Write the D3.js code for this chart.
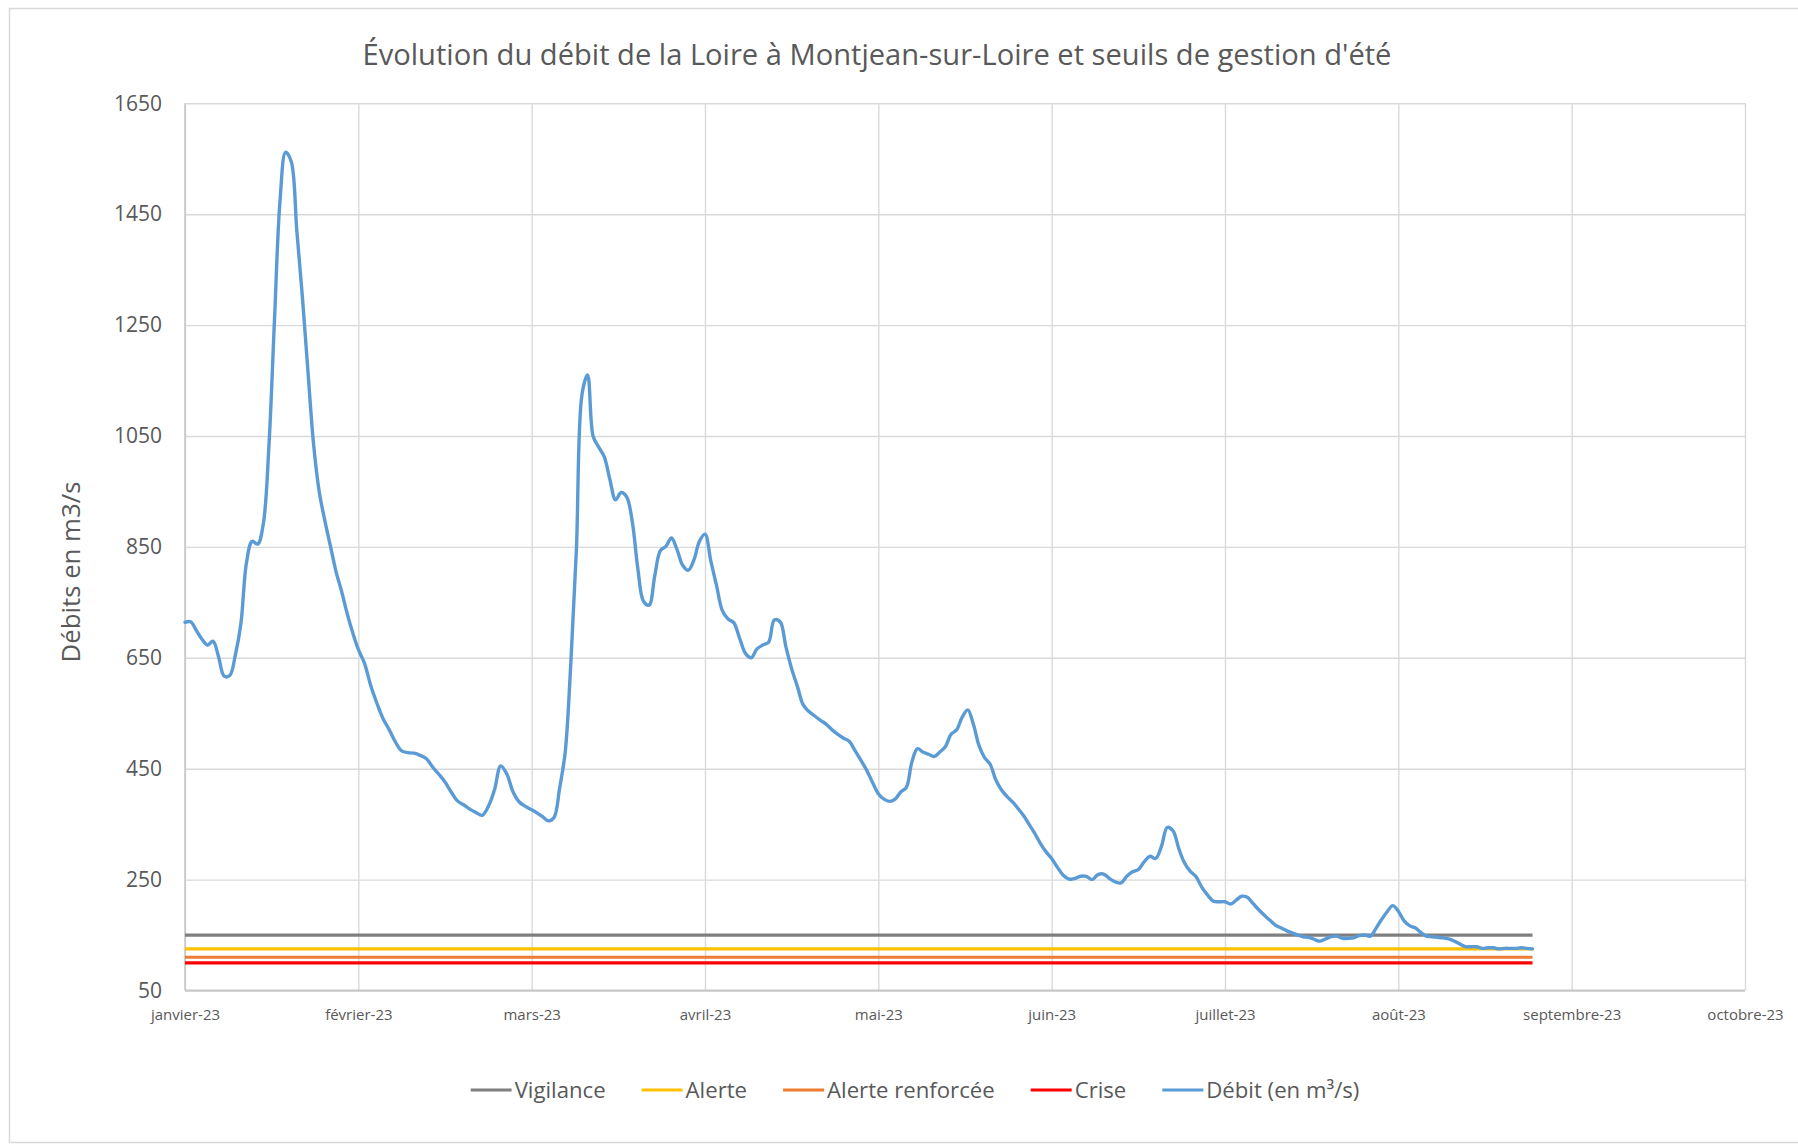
<!DOCTYPE html>
<html>
<head>
<meta charset="utf-8">
<script src="https://cdn.jsdelivr.net/npm/d3@7"></script>
<style>
  body { margin: 0; background: #ffffff; }
  svg { display: block; }
  text { font-family: "Open Sans", "Noto Sans", sans-serif; fill: #595959; }
</style>
</head>
<body>
<svg id="chart" width="1798" height="1145"></svg>
<script>
// ---- Données ----
const titre = "Évolution du débit de la Loire à Montjean-sur-Loire et seuils de gestion d'été";
const titreAxeY = "Débits en m3/s";

const moisDates = ["2023-01-01", "2023-02-01", "2023-03-01", "2023-04-01", "2023-05-01",
                   "2023-06-01", "2023-07-01", "2023-08-01", "2023-09-01", "2023-10-01"];
const moisLabels = ["janvier-23", "février-23", "mars-23", "avril-23", "mai-23",
                    "juin-23", "juillet-23", "août-23", "septembre-23", "octobre-23"];
const yTicks = [50, 250, 450, 650, 850, 1050, 1250, 1450, 1650];

// Seuils de gestion d'été (m3/s)
const seuilNoms = ["Vigilance", "Alerte", "Alerte renforcée", "Crise"];
const seuilValeurs = [150, 125, 110, 100];
const seuilCouleurs = ["#7f7f7f", "#ffc000", "#ed7d31", "#ff0000"];

// Débit journalier (m3/s), du 1er janvier au 25 août 2023
const debitDebut = "2023-01-01";
const debitFin = "2023-08-25";
const debitNom = "Débit (en m³/s)";
const debitCouleur = "#5b9bd5";
const debit = [
  714, 715, 700, 684, 673, 680, 652, 617, 618, 655,
  712, 822, 860, 855, 891, 1030, 1258, 1475, 1562, 1545,
  1420, 1300, 1165, 1035, 950, 898, 852, 806, 770, 730,
  695, 665, 640, 600, 568, 540, 520, 498, 482, 479,
  478, 474, 468, 453, 440, 426, 408, 392, 385, 377,
  371, 366, 382, 412, 455, 440, 408, 390, 382, 376,
  370, 363, 356, 362, 415, 480, 640, 845, 1125, 1160,
  1049, 1030, 1012, 971, 935, 948, 940, 895, 810, 752,
  745, 797, 843, 851, 866, 845, 817, 808, 826, 860,
  873, 825, 780, 735, 720, 713, 685, 658, 650, 666,
  673, 678, 718, 715, 670, 630, 598, 565, 553, 545,
  537, 530, 520, 512, 505, 499, 482, 465, 447, 425,
  405, 395, 391, 395, 408, 416, 462, 486, 480, 476,
  472, 480, 490, 512, 520, 543, 556, 530, 492, 470,
  458, 430, 412, 400, 390, 378, 365, 349, 333, 315,
  300, 288, 272, 258, 251, 252, 256, 256, 250, 259,
  260, 252, 246, 244, 256, 264, 268, 282, 292, 288,
  310, 344, 338, 306, 280, 265, 255, 236, 222, 211,
  210, 210, 206, 213, 220, 218, 207, 196, 186, 177,
  168, 163, 158, 154, 150, 147, 146, 142, 139, 143,
  147, 148, 144, 144, 145, 149, 150, 148, 162, 178,
  192, 203, 193, 176, 167, 163, 155, 148, 147, 146,
  145, 143, 139, 134, 129, 129, 129, 126, 127, 127,
  125, 126, 126, 126, 127, 126, 125
];

// ---- Mise en page ----
const svg = d3.select("#chart");
const plot = { left: 185, right: 1745, top: 103.3, bottom: 990.5 };

const parse = d3.timeParse("%Y-%m-%d");
const moisDatesP = moisDates.map(parse);

// Axe des dates : chaque mois occupe la même largeur
const x = d3.scaleTime()
  .domain(moisDatesP)
  .range(moisDatesP.map((d, i) => plot.left + i * (plot.right - plot.left) / (moisDatesP.length - 1)));

const y = d3.scaleLinear()
  .domain([yTicks[0], yTicks[yTicks.length - 1]])
  .range([plot.bottom, plot.top]);

// Cadre de la zone de graphique
svg.append("rect")
  .attr("x", 9.5).attr("y", 8.5)
  .attr("width", 1800).attr("height", 1134)
  .attr("fill", "#ffffff")
  .attr("stroke", "#d9d9d9").attr("stroke-width", 1.5);

// Ajuste la taille de police d'un texte à une largeur donnée
function fitWidth(sel, target) {
  const w = sel.node().getComputedTextLength();
  const fs = parseFloat(sel.attr("font-size"));
  sel.attr("font-size", fs * target / w);
}

// Titre
const t = svg.append("text")
  .attr("x", 877).attr("y", 55)
  .attr("dy", "0.35em")
  .attr("text-anchor", "middle")
  .attr("font-size", 30)
  .text(titre);
fitWidth(t, 1029);

// Quadrillage horizontal + étiquettes de l'axe Y
const gy = svg.append("g")
  .attr("transform", `translate(${plot.left},0)`)
  .call(d3.axisLeft(y).tickValues(yTicks).tickFormat(d3.format("d"))
    .tickSize(-(plot.right - plot.left)).tickPadding(23));
gy.select(".domain").remove();
gy.selectAll(".tick line").attr("stroke", "#d9d9d9").attr("stroke-width", 1.4);
gy.selectAll(".tick text")
  .attr("font-size", 21)
  .attr("font-family", "\"Open Sans\", sans-serif")
  .attr("fill", "#595959");

// Quadrillage vertical + étiquettes des mois
const gx = svg.append("g")
  .attr("transform", `translate(0,${plot.bottom})`)
  .call(d3.axisBottom(x).tickValues(moisDatesP)
    .tickFormat((d, i) => moisLabels[i])
    .tickSize(-(plot.bottom - plot.top)).tickPadding(19));
gx.select(".domain").remove();
gx.selectAll(".tick line").attr("stroke", "#d9d9d9").attr("stroke-width", 1.4);
gx.selectAll(".tick text")
  .attr("font-size", 15)
  .attr("font-family", "\"Open Sans\", sans-serif")
  .attr("fill", "#595959");

// Lignes d'axes
svg.append("line")
  .attr("x1", plot.left).attr("x2", plot.left)
  .attr("y1", plot.top).attr("y2", plot.bottom)
  .attr("stroke", "#c8c8c8").attr("stroke-width", 1.6);
svg.append("line")
  .attr("x1", plot.left).attr("x2", plot.right)
  .attr("y1", plot.bottom).attr("y2", plot.bottom)
  .attr("stroke", "#c8c8c8").attr("stroke-width", 2);

// Titre de l'axe Y
const ty = svg.append("text")
  .attr("transform", "translate(71,572) rotate(-90)")
  .attr("text-anchor", "middle")
  .attr("dy", "0.35em")
  .attr("font-size", 24)
  .text(titreAxeY);
fitWidth(ty, 181);

// Seuils
const d0 = parse(debitDebut), d1 = parse(debitFin);
const seuils = seuilNoms.map((n, i) => ({ nom: n, valeur: seuilValeurs[i], couleur: seuilCouleurs[i] }));
svg.append("g").selectAll("line").data(seuils).join("line")
  .attr("x1", x(d0)).attr("x2", x(d1))
  .attr("y1", d => y(d.valeur)).attr("y2", d => y(d.valeur))
  .attr("stroke", d => d.couleur)
  .attr("stroke-width", 3.2);

// Courbe de débit
const serie = debit.map((v, i) => ({ date: d3.timeDay.offset(d0, i), v }));
const ligne = d3.line()
  .x(d => x(d.date))
  .y(d => y(d.v))
  .curve(d3.curveCatmullRom.alpha(0.5));
svg.append("path")
  .datum(serie)
  .attr("d", ligne)
  .attr("fill", "none")
  .attr("stroke", debitCouleur)
  .attr("stroke-width", 3.4)
  .attr("stroke-linejoin", "round")
  .attr("stroke-linecap", "round");

// Légende
const legende = seuils.map(s => ({ nom: s.nom, couleur: s.couleur }))
  .concat([{ nom: debitNom, couleur: debitCouleur }]);
const lg = svg.append("g");
const items = lg.selectAll("g").data(legende).join("g");
items.append("line")
  .attr("x1", 0).attr("x2", 41).attr("y1", 0).attr("y2", 0)
  .attr("stroke", d => d.couleur).attr("stroke-width", 3.2);
const lt = items.append("text")
  .attr("x", 44).attr("dy", "0.35em")
  .attr("font-size", 20)
  .text(d => d.nom);
// taille de police calée sur la largeur totale des libellés
let somme = 0;
lt.each(function () { somme += this.getComputedTextLength(); });
lt.attr("font-size", 20 * 525 / somme);
const largeurs = [];
lt.each(function () { largeurs.push(this.getComputedTextLength()); });
const gap = 36;
const total = d3.sum(largeurs) + legende.length * 44 + gap * (legende.length - 1);
let cx = 915 - total / 2;
items.each(function (d, i) {
  d3.select(this).attr("transform", `translate(${cx},1090)`);
  cx += 44 + largeurs[i] + gap;
});
</script>
</body>
</html>
